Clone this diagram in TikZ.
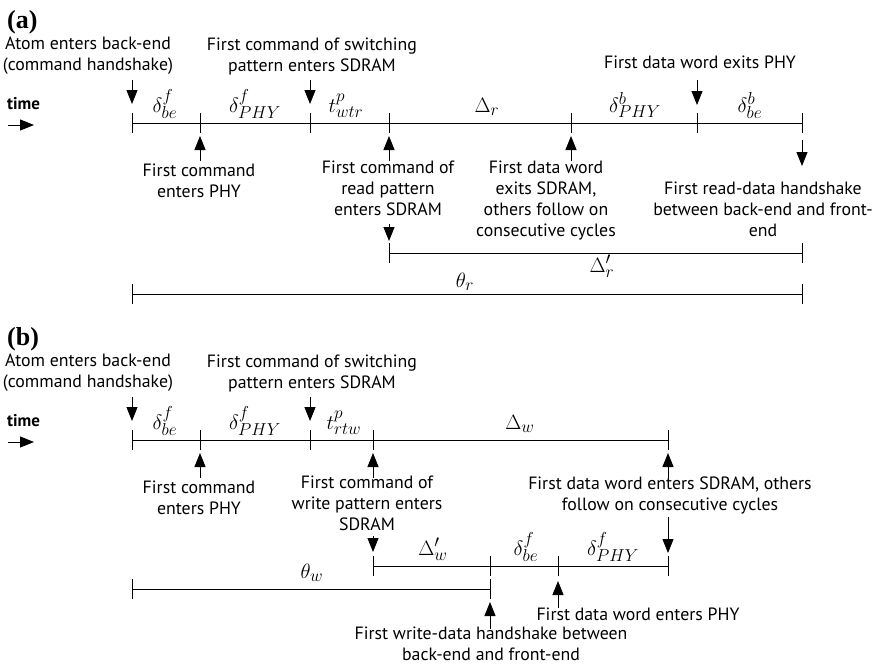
\documentclass[tikz,border=0pt]{standalone}
\usepackage{fontspec}
\setmainfont{PT Sans}
\usetikzlibrary{arrows.meta}
\newfontfamily\labelbold{Liberation Serif}[BoldFont={Liberation Serif Bold}]
% larger scripts for the interval labels
\DeclareMathSizes{22}{22}{16.5}{12}
\begin{document}
\begin{tikzpicture}[x=1pt,y=-1pt,
  txt/.style={align=center,inner sep=0pt,font=\fontsize{17.8}{21}\selectfont},
  lbl/.style={anchor=base,inner sep=0pt,font=\fontsize{22}{22}\selectfont},
  tl/.style={line width=0.9pt},
  marker/.style={line width=0.9pt,-{Triangle[length=14pt,width=11pt]}}]
\useasboundingbox (0,0) rectangle (878,664);

% ---------------- panel (a): read ----------------
\node[anchor=west,inner sep=0pt,font=\labelbold\bfseries\fontsize{26}{26}\selectfont] (pa) at (7,22) {(a)};
\node[anchor=west,inner sep=0pt,font=\bfseries\fontsize{17}{17}\selectfont] (timea) at (7,104) {time};
\coordinate (ta1) at (8,125); \coordinate (ta2) at (34,125);
\draw[marker] (ta1) -- (ta2);

\node[txt] (atoma) at (88,56) {Atom enters back-end\\(command handshake)};
\node[txt] (swa) at (312,56) {First command of switching\\pattern enters SDRAM};
\node[txt] (exphy) at (700,62) {First data word exits PHY};

% time line
\foreach \n/\x in {a0/132,a1/200,a2/310,a3/389,a4/571,a5/697,a6/802}{
  \coordinate (\n) at (\x,123);
  \draw[tl] (\x,113) -- (\x,133);
}
\draw[tl] (a0) -- (a6);

\node[lbl] (la1) at (165,112) {$\delta^f_{be}$};
\node[lbl] (la2) at (255,112) {$\delta^f_{PHY}$};
\node[lbl] (la3) at (346,112) {$t^p_{wtr}$};
\node[lbl] (la4) at (487,112) {$\Delta_r$};
\node[lbl] (la5) at (635,112) {$\delta^b_{PHY}$};
\node[lbl] (la6) at (750,112) {$\delta^b_{be}$};

% markers on the time line
\coordinate (da0s) at (132,80); \coordinate (da0e) at (132,104);
\coordinate (da2s) at (310,80); \coordinate (da2e) at (310,104);
\coordinate (da5s) at (697,80); \coordinate (da5e) at (697,105);
\draw[marker] (da0s) -- (da0e);
\draw[marker] (da2s) -- (da2e);
\draw[marker] (da5s) -- (da5e);
\coordinate (ua1s) at (200,161); \coordinate (ua1e) at (200,136);
\coordinate (ua3s) at (389,161); \coordinate (ua3e) at (389,136);
\coordinate (ua4s) at (571,161); \coordinate (ua4e) at (571,136);
\draw[marker] (ua1s) -- (ua1e);
\draw[marker] (ua3s) -- (ua3e);
\draw[marker] (ua4s) -- (ua4e);
\coordinate (da6s) at (802,140); \coordinate (da6e) at (802,166);
\draw[marker] (da6s) -- (da6e);

\node[txt] (cmdphya) at (199,181) {First command\\enters PHY};
\node[txt] (rdpat) at (388,188) {First command of\\read pattern\\enters SDRAM};
\node[txt] (exsd) at (546,201) {First data word\\exits SDRAM,\\others follow on\\consecutive cycles};
\node[txt] (rdhs) at (763,209) {First read-data handshake\\between back-end and front-\\end};

\coordinate (dr3s) at (389,224); \coordinate (dr3e) at (389,241);
\draw[marker] (dr3s) -- (dr3e);

% Delta'_r and theta_r spans
\coordinate (ra) at (389,253); \coordinate (rb) at (802,253);
\draw[tl] (ra) -- (rb);
\draw[tl] (389,243) -- (389,263);
\draw[tl] (802,243) -- (802,263);
\node[lbl] (ldr) at (602,272) {$\Delta'_r$};

\coordinate (tha) at (132,294); \coordinate (thb) at (802,294);
\draw[tl] (tha) -- (thb);
\draw[tl] (132,284) -- (132,304);
\draw[tl] (802,284) -- (802,304);
\node[lbl] (lthr) at (465,287) {$\theta_r$};

% ---------------- panel (b): write ----------------
\node[anchor=west,inner sep=0pt,font=\labelbold\bfseries\fontsize{26}{26}\selectfont] (pb) at (7,339) {(b)};
\node[anchor=west,inner sep=0pt,font=\bfseries\fontsize{17}{17}\selectfont] (timeb) at (7,421) {time};
\coordinate (tb1) at (8,442); \coordinate (tb2) at (34,442);
\draw[marker] (tb1) -- (tb2);

\node[txt] (atomb) at (88,373) {Atom enters back-end\\(command handshake)};
\node[txt] (swb) at (312,373) {First command of switching\\pattern enters SDRAM};

\foreach \n/\x in {b0/132,b1/200,b2/310,b3/373,b4/668}{
  \coordinate (\n) at (\x,440);
  \draw[tl] (\x,430) -- (\x,450);
}
\draw[tl] (b0) -- (b4);

\node[lbl] (lb1) at (165,429) {$\delta^f_{be}$};
\node[lbl] (lb2) at (255,429) {$\delta^f_{PHY}$};
\node[lbl] (lb3) at (344,429) {$t^p_{rtw}$};
\node[lbl] (lb4) at (520,429) {$\Delta_w$};

\coordinate (db0s) at (132,397); \coordinate (db0e) at (132,421);
\coordinate (db2s) at (310,397); \coordinate (db2e) at (310,421);
\draw[marker] (db0s) -- (db0e);
\draw[marker] (db2s) -- (db2e);
\coordinate (ub1s) at (200,478); \coordinate (ub1e) at (200,453);
\coordinate (ub3s) at (373,478); \coordinate (ub3e) at (373,453);
\coordinate (ub4s) at (668,478); \coordinate (ub4e) at (668,453);
\draw[marker] (ub1s) -- (ub1e);
\draw[marker] (ub3s) -- (ub3e);
\draw[marker] (ub4s) -- (ub4e);

\node[txt] (cmdphyb) at (199,498) {First command\\enters PHY};
\node[txt] (wrpat) at (367,503) {First command of\\write pattern enters\\SDRAM};
\node[txt] (ensd) at (670,495) {First data word enters SDRAM, others\\follow on consecutive cycles};

\coordinate (dw3s) at (373,536); \coordinate (dw3e) at (373,552);
\coordinate (dw4s) at (668,517); \coordinate (dw4e) at (668,553);
\draw[marker] (dw3s) -- (dw3e);
\draw[marker] (dw4s) -- (dw4e);

% second span: Delta'_w, delta_be, delta_PHY
\foreach \n/\x in {w0/373,w1/490,w2/558,w3/668}{
  \coordinate (\n) at (\x,566);
  \draw[tl] (\x,556) -- (\x,576);
}
\draw[tl] (w0) -- (w3);
\node[lbl] (lw1) at (433,555) {$\Delta'_w$};
\node[lbl] (lw2) at (526,555) {$\delta^f_{be}$};
\node[lbl] (lw3) at (613,555) {$\delta^f_{PHY}$};

% theta_w span
\coordinate (twa) at (132,589); \coordinate (twb) at (490,589);
\draw[tl] (twa) -- (twb);
\draw[tl] (132,579) -- (132,599);
\draw[tl] (490,579) -- (490,599);
\node[lbl] (lthw) at (312,578) {$\theta_w$};

\coordinate (uw1s) at (490,629); \coordinate (uw1e) at (490,602);
\coordinate (uw2s) at (558,608); \coordinate (uw2e) at (558,581);
\draw[marker] (uw1s) -- (uw1e);
\draw[marker] (uw2s) -- (uw2e);

\node[txt] (enphy) at (638,614) {First data word enters PHY};
\node[txt] (wrhs) at (491,644) {First write-data handshake between\\back-end and front-end};
\end{tikzpicture}
\end{document}
